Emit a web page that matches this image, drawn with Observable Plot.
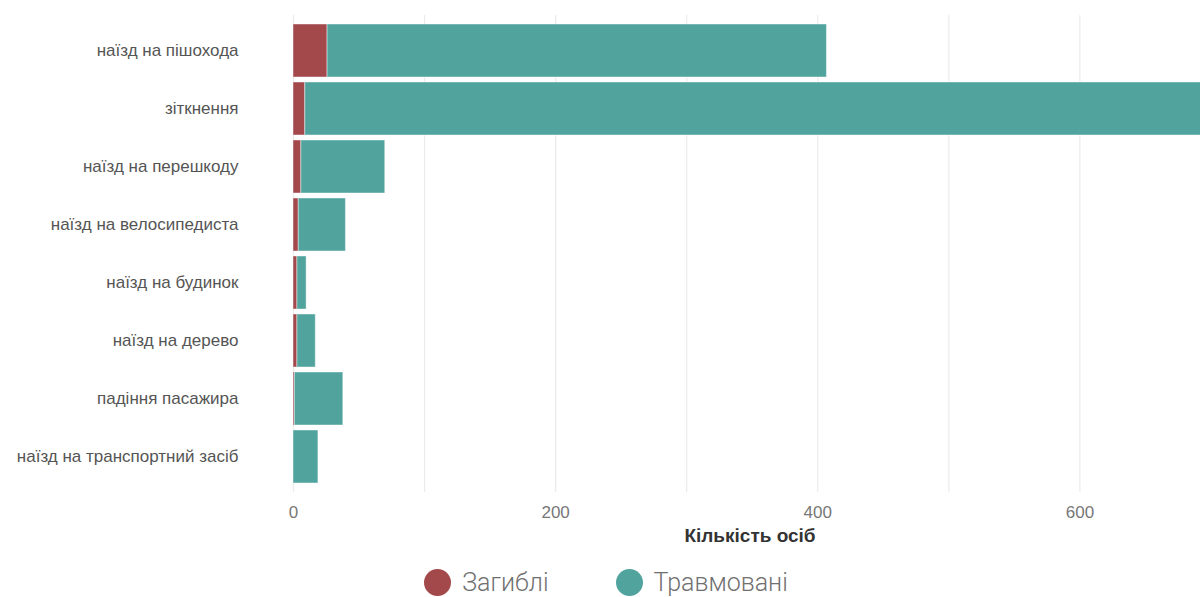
<!DOCTYPE html>
<html>
<head>
<meta charset="utf-8">
<script src="https://cdn.jsdelivr.net/npm/d3@7"></script>
<script src="https://cdn.jsdelivr.net/npm/@observablehq/plot@0.6"></script>
<style>
  html, body { margin: 0; padding: 0; background: #fff; overflow: hidden; }
  #chart svg { display: block; }
  .legend { display: flex; justify-content: center; align-items: center; gap: 67px; height: 37px; margin-top: 9px; padding-left: 12px;
    font-family: Roboto, "Open Sans", sans-serif; font-weight: 300; font-size: 25px; color: #707070; }
  .legend .item { display: flex; align-items: center; gap: 11px; }
  .legend .dot { width: 27px; height: 27px; border-radius: 50%; display: inline-block; }
</style>
</head>
<body>
<div id="chart"></div>
<div class="legend" id="legend"></div>
<script>
const categories = ["наїзд на пішохода", "зіткнення", "наїзд на перешкоду", "наїзд на велосипедиста",
  "наїзд на будинок", "наїзд на дерево", "падіння пасажира", "наїзд на транспортний засіб"];
const killed  = [26, 9, 6, 4, 3, 3, 1, 0];
const injured = [381, 760, 64, 36, 7, 14, 37, 19];
const seriesNames = ["Загиблі", "Травмовані"];
const seriesColors = ["#a3484b", "#51a39e"];
const xTicks = [0, 200, 400, 600];
const gridTicks = [0, 100, 200, 300, 400, 500, 600, 700];

const data = [];
categories.forEach((c, i) => {
  data.push({category: c, series: seriesNames[0], value: killed[i]});
  data.push({category: c, series: seriesNames[1], value: injured[i]});
});

const chart = Plot.plot({
  width: 1200,
  height: 555,
  marginLeft: 293,
  marginRight: 0,
  marginTop: 15,
  marginBottom: 63,
  style: {fontFamily: "'Liberation Sans', Arial, sans-serif", fontSize: "17px", color: "#555", background: "#fff"},
  x: {domain: [0, 692], ticks: xTicks, label: null},
  y: {domain: categories, padding: 0.09, label: null},
  color: {domain: seriesNames, range: seriesColors},
  marks: [
    Plot.gridX({ticks: gridTicks, stroke: "#ebebeb", strokeOpacity: 1, strokeWidth: 1.2}),
    Plot.barX(data, {x: "value", y: "category", fill: "series", stroke: "white", strokeOpacity: 0.45, strokeWidth: 1, clip: true}),
    Plot.axisY({tickSize: 0, tickPadding: 55, fontSize: 17, fill: "#555"}),
    Plot.axisX({ticks: xTicks, tickSize: 0, tickPadding: 13, fontSize: 17, fill: "#777", label: null}),
    Plot.text(["Кількість осіб"], {frameAnchor: "bottom", dy: 49, fontWeight: "bold", fontSize: 19, fill: "#333", dx: 3})
  ]
});
document.getElementById("chart").appendChild(chart);

const legend = document.getElementById("legend");
seriesNames.forEach((s, i) => {
  const item = document.createElement("span");
  item.className = "item";
  const dot = document.createElement("span");
  dot.className = "dot";
  dot.style.background = seriesColors[i];
  item.appendChild(dot);
  const t = document.createElement("span");
  t.textContent = s;
  item.appendChild(t);
  legend.appendChild(item);
});
</script>
</body>
</html>
